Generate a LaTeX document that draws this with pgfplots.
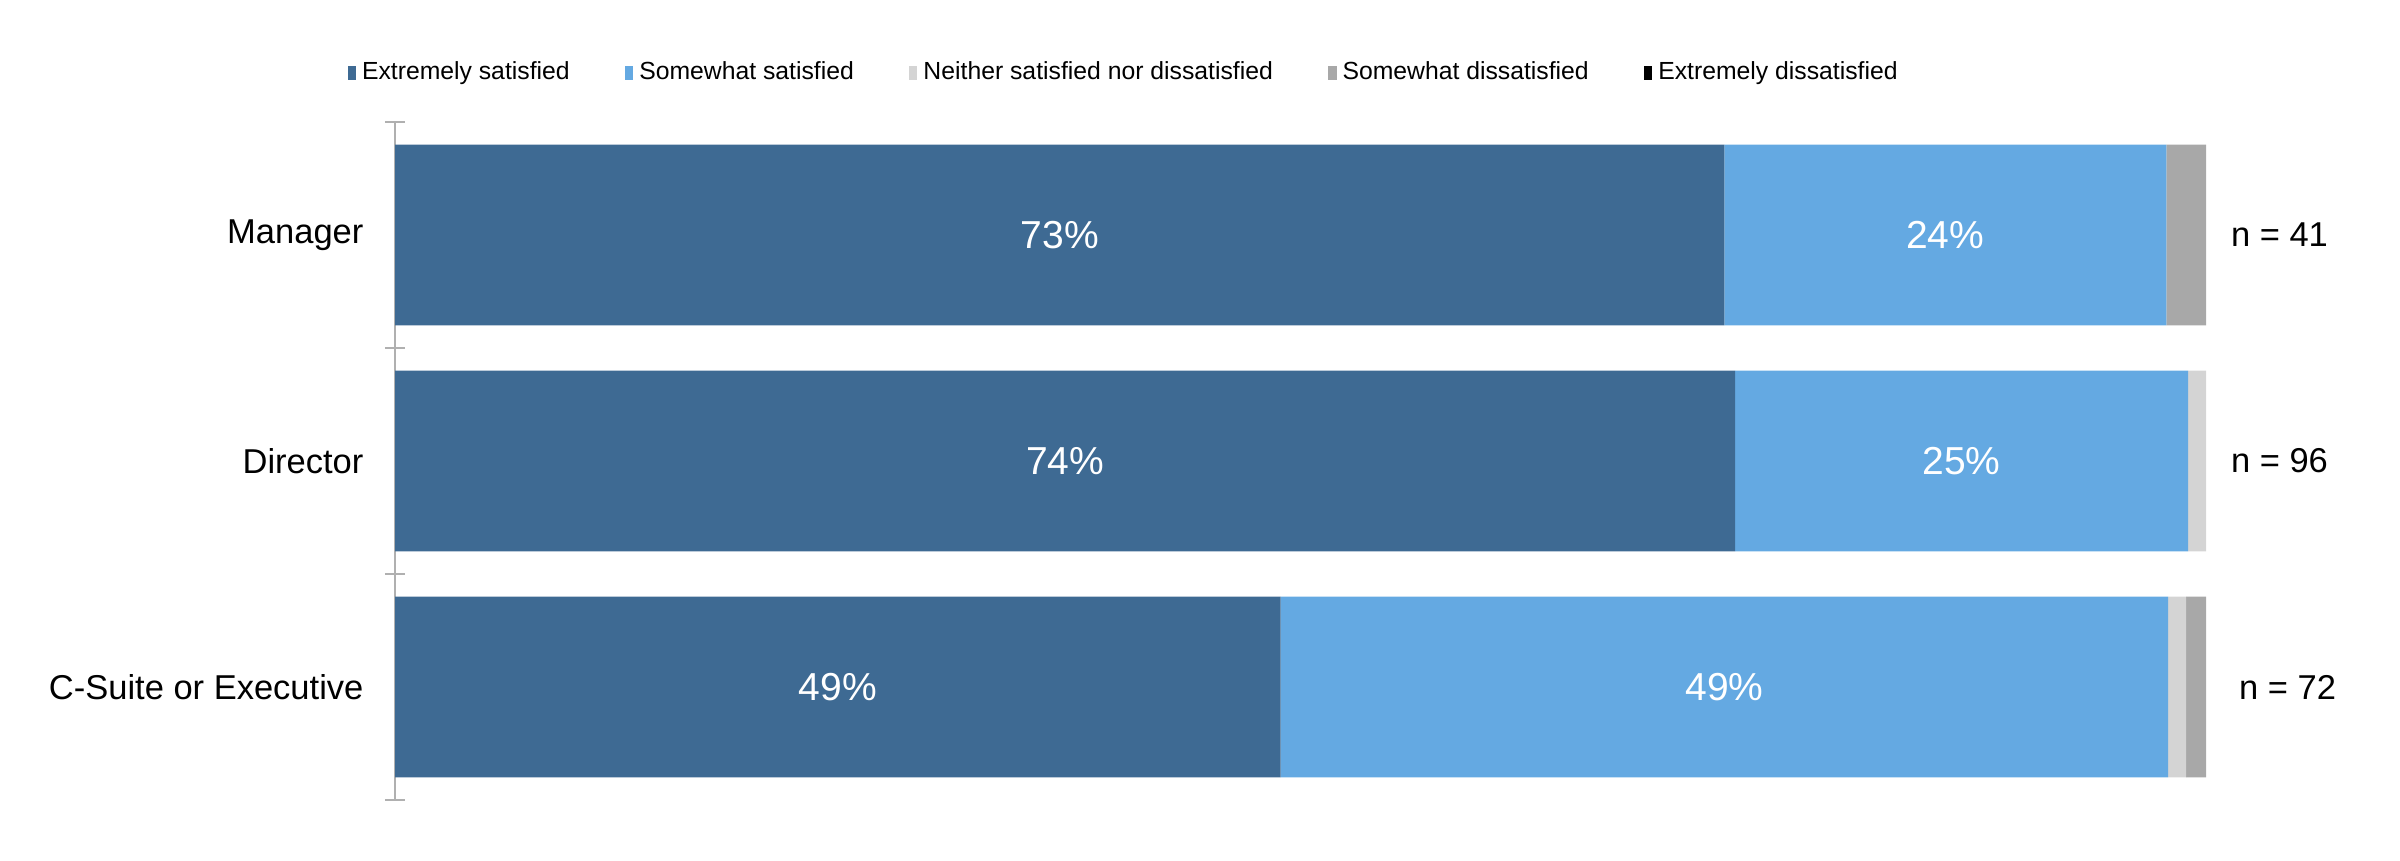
\documentclass[border=0pt]{standalone}
\usepackage{fontspec}
\setmainfont{Liberation Sans}
\usepackage{pgfplots}
\usepackage{pgfplotstable}
\pgfplotsset{compat=1.18}
\definecolor{cES}{HTML}{3E6A93}
\definecolor{cSS}{HTML}{64A9E2}
\definecolor{cNS}{HTML}{D4D4D4}
\definecolor{cSD}{HTML}{A8A8A8}
\definecolor{cED}{HTML}{000000}
\definecolor{axgray}{HTML}{B0B0B0}
\pgfplotstableread{
y es ss ns sd ed
0 73.4 24.4 0 2.2 0
1 74.0 25.0 1.0 0 0
2 48.9 49.0 1.0 1.1 0
}\data
\begin{document}
\begin{tikzpicture}
\path[use as bounding box] (0,0) rectangle (800pt,286.67pt);
\pgfplotsset{common/.style={scale only axis, width=603.7pt, height=226pt,
  at={(131.67pt,20pt)}, anchor=south west,
  xmin=0, xmax=100, ymin=-0.5, ymax=2.5, y dir=reverse,
  /pgf/number format/assume math mode=true}}
\begin{axis}[common, xbar stacked, bar width=0.8,
  axis x line=none, axis y line*=left,
  y axis line style={-, draw=axgray, line width=0.8pt},
  ytick={0,1,2}, yticklabels={Manager, Director, C-Suite or Executive},
  minor ytick={-0.5,0.5,1.5,2.5},
  major tick length=0pt, minor tick length=6.7pt, tick align=center,
  minor tick style={draw=axgray, line width=0.8pt},
  yticklabel style={font=\fontsize{11.5}{13}\selectfont, xshift=-7pt},
  legend style={at={(0.4035,1.072)}, anchor=center, draw=none,
    font=\fontsize{8.25}{9.5}\selectfont,
    /tikz/every even column/.append style={column sep=16.5pt}},
  legend columns=5,
  legend image code/.code={\fill[#1] (0pt,-2.2pt) rectangle (2.7pt,2.4pt);},
]
\addplot[fill=cES, draw=none] table[x=es, y=y] {\data};
\addplot[fill=cSS, draw=none] table[x=ss, y=y] {\data};
\addplot[fill=cNS, draw=none] table[x=ns, y=y] {\data};
\addplot[fill=cSD, draw=none] table[x=sd, y=y] {\data};
\addplot[fill=cED, draw=none] table[x=ed, y=y] {\data};
\legend{Extremely satisfied, Somewhat satisfied, Neither satisfied nor dissatisfied, Somewhat dissatisfied, Extremely dissatisfied}
\end{axis}
\begin{axis}[common, hide axis, clip=false]
\addplot[draw=none, mark=none, point meta=explicit,
  nodes near coords={\pgfmathprintnumber[fixed,precision=0]{\pgfplotspointmeta}\%},
  every node near coord/.style={anchor=center, text=white, font=\fontsize{13}{15}\selectfont}]
  table[x expr=\thisrow{es}/2, y=y, meta=es] {\data};
\addplot[draw=none, mark=none, point meta=explicit,
  nodes near coords={\pgfmathprintnumber[fixed,precision=0]{\pgfplotspointmeta}\%},
  every node near coord/.style={anchor=center, text=white, font=\fontsize{13}{15}\selectfont}]
  table[x expr=\thisrow{es}+\thisrow{ss}/2, y=y, meta=ss] {\data};
\addplot[draw=none, mark=none, point meta=explicit symbolic, nodes near coords,
  every node near coord/.style={anchor=center, text=black, font=\fontsize{11.5}{13}\selectfont}]
  coordinates {(104.05,0) [n = 41] (104.05,1) [n = 96] (104.5,2) [n = 72]};
\end{axis}
\end{tikzpicture}
\end{document}
